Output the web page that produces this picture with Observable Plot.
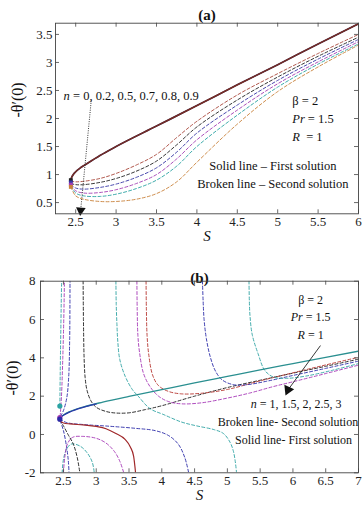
<!DOCTYPE html>
<html><head><meta charset="utf-8">
<script src="https://cdn.jsdelivr.net/npm/d3@7"></script>
<script src="https://cdn.jsdelivr.net/npm/@observablehq/plot@0.6"></script>
<style>
body{margin:0;background:#fff;}
#chart{width:362px;height:506px;overflow:hidden;}
#chart svg{display:block;}
</style></head><body><div id="chart"></div>
<script>
// ---------- Panel (a) data ----------
const aXTicks = [2.5, 3, 3.5, 4, 4.5, 5, 5.5, 6];
const aYTicks = [0.5, 1, 1.5, 2, 2.5, 3, 3.5];
const aNLabels = ["0", "0.2", "0.5", "0.7", "0.8", "0.9"];
const aSolidS = [2.435, 2.44, 2.45, 2.47, 2.5, 2.55, 2.6, 2.7, 2.8, 3.0, 3.5, 4.0, 4.5, 5.0, 5.5, 6.0];
const aSolidT = [0.86, 0.91, 0.95, 1.0, 1.05, 1.11, 1.16, 1.25, 1.34, 1.50, 1.865, 2.23, 2.6, 2.96, 3.33, 3.69];
const aDashS = [2.44, 2.5, 2.6, 2.8, 3.0, 3.25, 3.5, 3.75, 4.0, 4.5, 5.0, 5.5, 6.0];
const aDashN0  = [0.88, 0.87, 0.88, 0.93, 1.02, 1.17, 1.36, 1.66, 1.95, 2.42, 2.80, 3.16, 3.50];
const aDashN02 = [0.84, 0.82, 0.82, 0.86, 0.93, 1.06, 1.24, 1.53, 1.85, 2.33, 2.74, 3.11, 3.45];
const aDashN05 = [0.82, 0.76, 0.74, 0.77, 0.83, 0.95, 1.12, 1.40, 1.74, 2.24, 2.68, 3.06, 3.41];
const aDashN07 = [0.80, 0.71, 0.67, 0.68, 0.73, 0.84, 1.00, 1.28, 1.62, 2.15, 2.62, 3.01, 3.37];
const aDashN08 = [0.79, 0.67, 0.62, 0.61, 0.65, 0.75, 0.90, 1.15, 1.50, 2.06, 2.56, 2.97, 3.33];
const aDashN09 = [0.78, 0.62, 0.56, 0.52, 0.52, 0.56, 0.66, 0.87, 1.22, 1.90, 2.48, 2.92, 3.31];
const aColors = ["#a8463a", "#222222", "#3535a5", "#a23cb2", "#2aa3a3", "#c8813a"];
const aMarkS = [2.44, 2.44, 2.44, 2.44];
const aMarkT = [0.9, 0.86, 0.82, 0.78];
const aMarkC = ["#222222", "#3535a5", "#a23cb2", "#c8813a"];

// ---------- Panel (b) data ----------
const bXTicks = [2.5, 3, 3.5, 4, 4.5, 5, 5.5, 6, 6.5, 7];
const bYTicks = [-2, 0, 2, 4, 6, 8];
const bTealSolidS = [2.445, 2.5, 2.6, 2.8, 3.1, 3.5, 4, 4.5, 5, 5.5, 6, 6.5, 7];
const bTealSolidT = [0.88, 1.02, 1.2, 1.43, 1.69, 1.99, 2.34, 2.69, 3.03, 3.37, 3.70, 4.03, 4.35];
const bBlueSolidS = [2.445, 2.5, 2.6, 2.8, 3.0];
const bBlueSolidT = [0.86, 1.0, 1.18, 1.42, 1.6];
const bRedSolidS = [2.445, 2.5, 2.6, 2.8, 3.0, 3.15, 3.3, 3.44, 3.52, 3.57, 3.6];
const bRedSolidT = [0.7, 0.6, 0.55, 0.5, 0.42, 0.3, 0.05, -0.26, -0.65, -1.13, -2];

const bBlackUpS = [2.8, 2.805, 2.815, 2.83, 2.86, 2.92, 3.0, 3.15, 3.3, 3.5, 3.75, 4.0, 4.5, 5.0, 5.5, 6.0, 6.5, 7.0];
const bBlackUpT = [8, 6, 4, 3, 2.3, 1.75, 1.42, 1.2, 1.12, 1.13, 1.3, 1.5, 2.0, 2.45, 2.83, 3.2, 3.56, 3.93];
const bTealMidS = [3.3, 3.305, 3.315, 3.33, 3.36, 3.44, 3.55, 3.64, 3.82, 4.02, 4.3, 4.53, 4.8, 4.94, 5.04, 5.09, 5.12, 5.14];
const bTealMidT = [8, 6.8, 5.8, 4.8, 3.9, 3.05, 2.35, 2.0, 1.35, 1.05, 0.65, 0.45, 0.25, 0.05, -0.4, -0.85, -1.4, -2];
const bPurpleUpS = [3.62, 3.625, 3.635, 3.66, 3.72, 3.82, 3.95, 4.1, 4.3, 4.6, 5.0, 5.35, 5.7, 6.0, 6.5, 7.0];
const bPurpleUpT = [8, 6.5, 5.2, 4.3, 3.2, 2.5, 2.0, 1.72, 1.6, 1.65, 1.9, 2.17, 2.5, 2.75, 3.18, 3.62];
const bRedUpS = [3.76, 3.765, 3.775, 3.8, 3.86, 3.95, 4.1, 4.3, 4.6, 5.0, 5.5, 6.0, 6.5, 7.0];
const bRedUpT = [8, 6.5, 5.2, 4.2, 3.1, 2.55, 2.25, 2.12, 2.15, 2.35, 2.8, 3.22, 3.63, 4.03];
const bBlueUpS = [4.62, 4.63, 4.645, 4.68, 4.74, 4.82, 4.92, 5.09, 5.3, 5.6, 6.0, 6.5, 7.0];
const bBlueUpT = [8, 7, 6, 5, 4.04, 3.3, 2.85, 2.6, 2.6, 2.78, 3.08, 3.45, 3.83];
const bTealRightS = [5.33, 5.335, 5.345, 5.38, 5.47, 5.57, 5.7, 5.9, 6.2, 6.6, 7.0];
const bTealRightT = [8, 7, 6.2, 5.2, 4.2, 3.35, 3.0, 2.93, 3.05, 3.35, 3.7];
const bBlackLowS = [2.445, 2.5, 2.57, 2.65, 2.71, 2.75];
const bBlackLowT = [0.75, 0.45, 0.0, -0.5, -1.2, -2];
const bBlueLowS = [2.445, 2.55, 2.8, 3.2, 3.6, 3.9, 4.1, 4.25, 4.35, 4.41];
const bBlueLowT = [0.8, 0.62, 0.52, 0.43, 0.32, 0.2, -0.05, -0.5, -1.2, -2];
const bPurpleArchS = [2.5, 2.52, 2.56, 2.64, 2.8, 3.0, 3.15, 3.28, 3.36, 3.42];
const bPurpleArchT = [-2, -1.2, -0.5, -0.15, -0.1, -0.2, -0.45, -0.9, -1.4, -2];
const bTealArchS = [2.48, 2.5, 2.55, 2.62, 2.75, 2.86, 2.94, 2.97];
const bTealArchT = [-2, -1.3, -0.75, -0.5, -0.6, -0.95, -1.45, -2];
const bTealTopS = [2.445, 2.45, 2.458, 2.466, 2.472];
const bTealTopT = [1.48, 3.0, 5.0, 6.8, 8];
const bPurpleTopS = [2.45, 2.47, 2.49, 2.505, 2.515];
const bPurpleTopT = [0.95, 2.0, 4.0, 6.0, 8];
const bBlueTopS = [2.455, 2.5, 2.55, 2.58, 2.595, 2.6];
const bBlueTopT = [0.95, 1.25, 1.9, 3, 5, 8];
const bBlueBotS = [2.45, 2.5, 2.55, 2.575, 2.585];
const bBlueBotT = [0.72, 0.2, -0.7, -1.4, -2];
const bMarkS = [2.445, 2.445, 2.445];
const bMarkT = [1.48, 0.88, 0.8];
const bMarkC = ["#2aa3a3", "#a23cb2", "#2b2ba8"];
const bCol = {red: "#b5332e", black: "#1a1a1a", blue: "#2b2ba8", purple: "#a535b5", teal: "#2ea3a3"};

// ---------- helpers ----------
const FONT = "Liberation Serif";
const rows = (S, T) => S.map((s, i) => ({S: s, T: T[i]}));
const dash = (S, T, color) => Plot.line(rows(S, T), {x: "S", y: "T", stroke: color, strokeWidth: 0.9, strokeDasharray: "3,2.2", curve: "catmull-rom", clip: true});
const solid = (S, T, color, w = 1.3) => Plot.line(rows(S, T), {x: "S", y: "T", stroke: color, strokeWidth: w, curve: "monotone-x", clip: true});
const txt = (data, opts) => Plot.text(data, {fontFamily: FONT, fontSize: 12, fill: "#111", ...opts});

function frameTicks(xTicks, yTicks, fw, fh) {
  const st = {stroke: "#444", strokeWidth: 0.8};
  return [
    Plot.tickX(xTicks, {x: d => d, insetTop: fh - 4, ...st}),
    Plot.tickX(xTicks, {x: d => d, insetBottom: fh - 4, ...st}),
    Plot.tickY(yTicks, {y: d => d, insetRight: fw - 4, ...st}),
    Plot.tickY(yTicks, {y: d => d, insetLeft: fw - 4, ...st}),
    Plot.frame({stroke: "#444", strokeWidth: 0.9})
  ];
}

function italicize(svg) {
  d3.select(svg).selectAll("text").each(function () {
    const t = this.textContent;
    if (!t.includes("*")) return;
    const parts = t.split("*");
    this.textContent = "";
    parts.forEach((p, i) => {
      if (!p) return;
      const ts = document.createElementNS("http://www.w3.org/2000/svg", "tspan");
      ts.textContent = p;
      if (i % 2 === 1) ts.setAttribute("font-style", "italic");
      this.appendChild(ts);
    });
  });
}

// ---------- Panel (a) ----------
{
  const W = 362, H = 250, ml = 55, mr = 4, mt = 22.7, mb = 36.7;
  const fw = W - ml - mr, fh = H - mt - mb;
  const dashSets = [aDashN0, aDashN02, aDashN05, aDashN07, aDashN08, aDashN09];
  const svg = Plot.plot({
    width: W, height: H, marginLeft: ml, marginRight: mr, marginTop: mt, marginBottom: mb,
    style: {fontFamily: FONT, fontSize: "13px", color: "#222", background: "#fff"},
    x: {domain: [2.25, 6]},
    y: {domain: [0.3, 3.7]},
    marks: [
      Plot.axisX(aXTicks, {tickSize: 0, tickPadding: 3, tickFormat: d => String(d), label: null, fontSize: 13, fontFamily: FONT}),
      Plot.axisY(aYTicks, {tickSize: 0, tickPadding: 3, tickFormat: d => String(d), label: null, fontSize: 13, fontFamily: FONT}),
      ...dashSets.map((arr, i) => dash(aDashS, arr, aColors[i])),
      solid(aSolidS, aSolidT, "#3a1a3a", 1.7),
      solid(aSolidS, aSolidT, "#7a2e24", 1.2),
      Plot.dot(rows(aMarkS, aMarkT), {x: "S", y: "T", symbol: "square", r: 2.2, fill: (d, i) => aMarkC[i], stroke: "none"}),
      Plot.link([{x1: 2.692, y1: 2.32, x2: 2.562, y2: 0.37}], {x1: "x1", y1: "y1", x2: "x2", y2: "y2", stroke: "#222", strokeWidth: 0.9, strokeDasharray: "1,1.3"}),
      Plot.dot([{S: 2.561, T: 0.36}], {x: "S", y: "T", symbol: "triangle", r: 3.6, rotate: 185, fill: "#111", stroke: "none"}),
      txt(["*n* = " + aNLabels.join(", ")], {x: 3.187, y: 2.406, fontSize: 12.5}),
      txt(["β = 2", "*Pr* = 1.5", "*R*  = 1"], {x: 5.18, y: (d, i) => [2.32, 1.99, 1.67][i], textAnchor: "start", fontSize: 12.5}),
      txt(["Solid line – First solution", "Broken line – Second solution"], {x: 4.94, y: (d, i) => [1.147, 0.828][i], fontSize: 12.5}),
      txt(["(a)"], {frameAnchor: "top", dy: -13.5, fontWeight: "bold", fontSize: 15}),
      txt(["*S*"], {frameAnchor: "bottom", dy: 27, fontSize: 15}),
      txt(["-θ′(0)"], {frameAnchor: "left", dx: -38, dy: -1, rotate: -90, fontSize: 16}),
      ...frameTicks(aXTicks, aYTicks, fw, fh)
    ]
  });
  italicize(svg);
  document.getElementById("chart").appendChild(svg);
}

// ---------- Panel (b) ----------
{
  const W = 362, H = 256, ml = 40, mr = 4, mt = 30.7, mb = 33.7;
  const fw = W - ml - mr, fh = H - mt - mb;
  const svg = Plot.plot({
    width: W, height: H, marginLeft: ml, marginRight: mr, marginTop: mt, marginBottom: mb,
    style: {fontFamily: FONT, fontSize: "13px", color: "#222", background: "#fff"},
    x: {domain: [2.15, 7]},
    y: {domain: [-2, 8]},
    marks: [
      Plot.axisX(bXTicks, {tickSize: 0, tickPadding: 2.5, tickFormat: d => String(d), label: null, fontSize: 13, fontFamily: FONT}),
      Plot.axisY(bYTicks, {tickSize: 0, tickPadding: 5, tickFormat: d => String(d), label: null, fontSize: 13, fontFamily: FONT}),
      dash(bTealTopS, bTealTopT, bCol.teal),
      dash(bPurpleTopS, bPurpleTopT, bCol.purple),
      dash(bBlueTopS, bBlueTopT, bCol.blue),
      dash(bBlueBotS, bBlueBotT, bCol.blue),
      dash(bTealArchS, bTealArchT, bCol.teal),
      dash(bPurpleArchS, bPurpleArchT, bCol.purple),
      dash(bBlackLowS, bBlackLowT, bCol.black),
      dash(bBlueLowS, bBlueLowT, bCol.blue),
      dash(bBlackUpS, bBlackUpT, bCol.black),
      dash(bTealMidS, bTealMidT, bCol.teal),
      dash(bPurpleUpS, bPurpleUpT, bCol.purple),
      dash(bRedUpS, bRedUpT, bCol.red),
      dash(bBlueUpS, bBlueUpT, bCol.blue),
      dash(bTealRightS, bTealRightT, bCol.teal),
      solid(bRedSolidS, bRedSolidT, "#a0282a", 1.2),
      solid(bTealSolidS, bTealSolidT, "#2a8f90", 1.3),
      solid(bBlueSolidS, bBlueSolidT, "#2a3aa8", 1.3),
      Plot.dot(rows(bMarkS, bMarkT), {x: "S", y: "T", symbol: "circle", r: 2.6, fill: (d, i) => bMarkC[i], stroke: "none"}),
      Plot.link([{x1: 6.42, y1: 4.64, x2: 5.93, y2: 2.35}], {x1: "x1", y1: "y1", x2: "x2", y2: "y2", stroke: "#222", strokeWidth: 0.9}),
      Plot.dot([{S: 5.925, T: 2.33}], {x: "S", y: "T", symbol: "triangle", r: 4, rotate: 204, fill: "#111", stroke: "none"}),
      txt(["β = 2", "*Pr* = 1.5", "*R* = 1"], {x: 6.27, y: (d, i) => [6.99, 6.12, 5.17][i]}),
      txt(["*n* = 1, 1.5, 2, 2.5, 3"], {x: 6.05, y: 1.60}),
      txt(["Broken line- Second solution"], {x: 5.925, y: 0.64}),
      txt(["Solid line- First solution"], {x: 6.01, y: -0.28}),
      txt(["(b)"], {frameAnchor: "top", dy: -9, fontWeight: "bold", fontSize: 15}),
      txt(["*S*"], {frameAnchor: "bottom", dy: 27.5, fontSize: 15}),
      txt(["-θ′(0)"], {frameAnchor: "left", dx: -28, dy: 18.5, rotate: -90, fontSize: 16}),
      ...frameTicks(bXTicks, bYTicks, fw, fh)
    ]
  });
  italicize(svg);
  document.getElementById("chart").appendChild(svg);
}
</script></body></html>
